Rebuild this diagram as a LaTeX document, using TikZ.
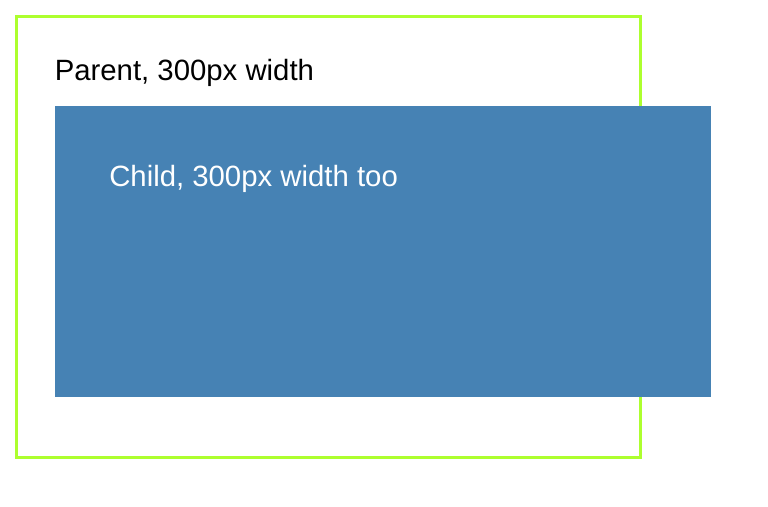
\documentclass[tikz,border=0pt]{standalone}
\usepackage{fontspec}
\setmainfont{Liberation Sans}
\definecolor{parentgreen}{RGB}{173,255,47}
\definecolor{childblue}{RGB}{70,130,180}
\begin{document}
\begin{tikzpicture}[x=0.75pt,y=-0.75pt]
    \tikzstyle{box} = [inner sep=0pt, outer sep=0pt, anchor=center]
    \tikzstyle{caption} = [inner sep=0pt, anchor=base west, font=\fontsize{22pt}{26pt}\selectfont]
    \useasboundingbox (0,0) rectangle (768,507);

    % Parent frame
    \node [box, draw=parentgreen, line width=2.4pt, minimum width=468pt, minimum height=330.75pt] (Parent) at (328.5,237) {};

    % Child block, wider than its parent
    \node [box, fill=childblue, minimum width=492pt, minimum height=218.25pt] (Child) at (383,251.5) {};

    % Texts
    \node [caption] (ParentText) at (54.5,80) {Parent, 300px width};
    \node [caption, text=white] (ChildText) at (109,186) {Child, 300px width too};
\end{tikzpicture}
\end{document}
